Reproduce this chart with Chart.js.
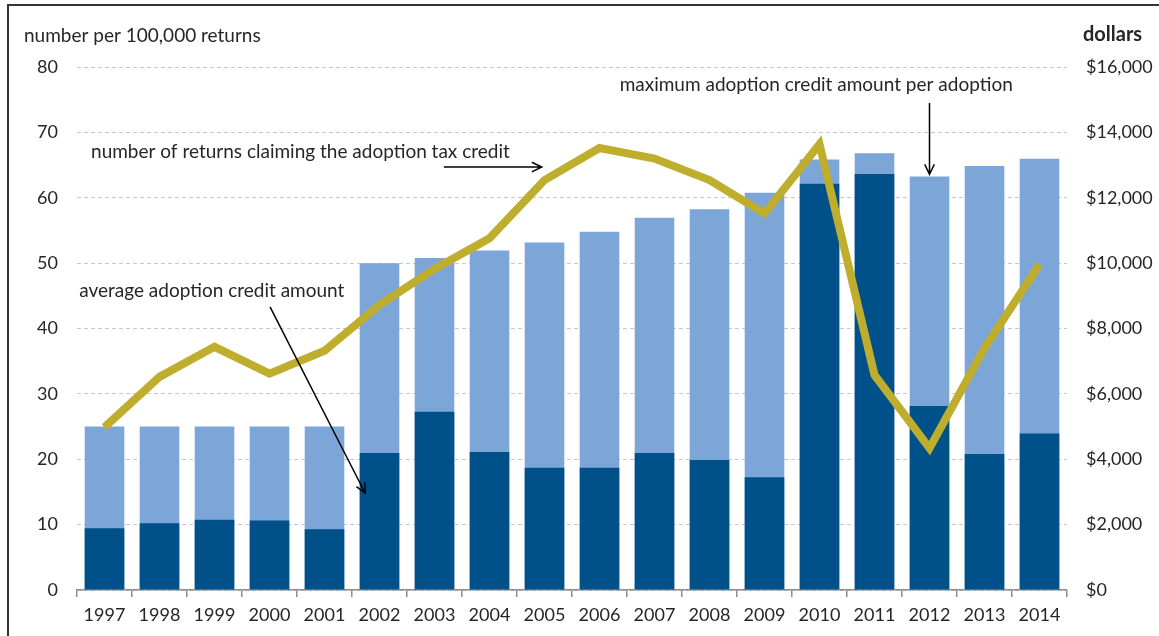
<!DOCTYPE html>
<html>
<head>
<meta charset="utf-8">
<script src="https://cdn.jsdelivr.net/npm/chart.js@4.4.1/dist/chart.umd.min.js"></script>
<style>
  html, body { margin: 0; padding: 0; background: #fff; }
  canvas { display: block; }
</style>
</head>
<body>
<canvas id="adoptionChart" width="1159" height="636"></canvas>
<script>
// DATA
const years = ['1997','1998','1999','2000','2001','2002','2003','2004','2005',
               '2006','2007','2008','2009','2010','2011','2012','2013','2014'];
// maximum credit per adoption (dollars, right axis)
const maxCredit = [5000, 5000, 5000, 5000, 5000, 10000, 10160, 10390, 10630,
                   10960, 11390, 11650, 12150, 13170, 13360, 12650, 12970, 13190];
// average credit amount (dollars, right axis)
const avgCredit = [1890, 2040, 2150, 2130, 1860, 4190, 5450, 4220, 3740,
                   3740, 4190, 3980, 3450, 12430, 12730, 5630, 4160, 4790];
// returns claiming the credit per 100,000 returns (left axis)
const claimRate = [24.9, 32.6, 37.2, 33.1, 36.6, 43.6, 49.1, 53.8, 62.7,
                   67.6, 66.0, 62.7, 57.6, 68.2, 32.9, 21.7, 37.0, 49.8];
const leftTicks = [0, 10, 20, 30, 40, 50, 60, 70, 80];
const rightTicks = [0, 2000, 4000, 6000, 8000, 10000, 12000, 14000, 16000];

const FONT = 'Lato, "Open Sans", sans-serif';
const TEXT = '#262626';

// notes: position in (category index, left-axis value)
const notes = [
  { text: 'number of returns claiming the adoption tax credit', i: -0.245, v: 67.0,
    arrow: { i0: 6.17, v0: 64.7, i1: 7.95, v1: 64.7 } },
  { text: 'maximum adoption credit amount per adoption', i: 12.94, v: 77.25, align: 'center',
    arrow: { i0: 15, v0: 74.5, i1: 15, v1: 63.6 } },
  { text: 'average adoption credit amount', i: -0.46, v: 45.7,
    arrow: { i0: 3.01, v0: 43.3, i1: 4.74, v1: 14.8 } }
];

function drawArrow(ctx, x0, y0, x1, y1) {
  const ang = Math.atan2(y1 - y0, x1 - x0);
  const head = 11;
  ctx.beginPath();
  ctx.moveTo(x0, y0);
  ctx.lineTo(x1, y1);
  ctx.moveTo(x1 - head * Math.cos(ang - 0.45), y1 - head * Math.sin(ang - 0.45));
  ctx.lineTo(x1, y1);
  ctx.lineTo(x1 - head * Math.cos(ang + 0.45), y1 - head * Math.sin(ang + 0.45));
  ctx.stroke();
}

const extras = {
  id: 'extras',
  beforeDraw(chart) {
    const ctx = chart.ctx;
    ctx.save();
    ctx.fillStyle = '#fff';
    ctx.fillRect(0, 0, chart.width, chart.height);
    ctx.restore();
  },
  afterDraw(chart) {
    const ctx = chart.ctx;
    const xs = chart.scales.x, ys = chart.scales.y;
    const px = i => xs.getPixelForValue(0) + i * (xs.getPixelForValue(1) - xs.getPixelForValue(0));
    ctx.save();
    // frame
    ctx.strokeStyle = '#333';
    ctx.lineWidth = 2;
    ctx.beginPath();
    ctx.moveTo(8, chart.height + 5);
    ctx.lineTo(8, 5);
    ctx.lineTo(chart.width + 5, 5);
    ctx.stroke();

    // axis titles
    ctx.fillStyle = TEXT;
    ctx.textBaseline = 'middle';
    ctx.font = '19px ' + FONT;
    ctx.textAlign = 'left';
    ctx.fillText('number per 100,000 returns', 24, 36);
    ctx.font = 'bold 20px ' + FONT;
    ctx.fillText('dollars', 1083, 35);

    // annotations
    ctx.font = '19px ' + FONT;
    ctx.strokeStyle = '#000';
    ctx.lineWidth = 1.5;
    notes.forEach(n => {
      ctx.textAlign = n.align || 'left';
      ctx.fillText(n.text, px(n.i), ys.getPixelForValue(n.v));
      const a = n.arrow;
      drawArrow(ctx, px(a.i0), ys.getPixelForValue(a.v0), px(a.i1), ys.getPixelForValue(a.v1));
    });
    ctx.restore();
  }
};

document.addEventListener('DOMContentLoaded', () => {
  const ctx = document.getElementById('adoptionChart').getContext('2d');
  new Chart(ctx, {
    data: {
      labels: years,
      datasets: [
        {
          type: 'line', label: 'number of returns', data: claimRate, yAxisID: 'y',
          borderColor: '#BFAE2E', borderWidth: 8, pointRadius: 0, tension: 0,
          borderJoinStyle: 'miter', order: 0
        },
        {
          type: 'bar', label: 'average credit', data: avgCredit, yAxisID: 'y2',
          backgroundColor: '#00508A', barPercentage: 0.72, categoryPercentage: 1, order: 1
        },
        {
          type: 'bar', label: 'maximum credit', data: maxCredit, yAxisID: 'y2',
          backgroundColor: '#7DA6D8', barPercentage: 0.72, categoryPercentage: 1, order: 2
        }
      ]
    },
    options: {
      responsive: false,
      animation: false,
      events: [],
      layout: { padding: { top: 67, left: 0, right: 0, bottom: 0 } },
      plugins: { legend: { display: false }, tooltip: { enabled: false } },
      scales: {
        x: {
          stacked: true,
          afterFit: s => { s.height = 46; },
          border: { color: '#8c8c8c', width: 1.5 },
          grid: { offset: true, drawOnChartArea: false, drawTicks: true, tickLength: 7, color: '#8c8c8c', lineWidth: 1.5 },
          ticks: { color: TEXT, font: { family: FONT, size: 18 }, padding: 7, maxRotation: 0, autoSkip: false }
        },
        y: {
          position: 'left', min: 0, max: 80,
          afterFit: s => { s.width = 77; },
          afterBuildTicks: s => { s.ticks = leftTicks.map(v => ({ value: v })); },
          border: { display: false, dash: [4, 3] },
          grid: { color: '#c8c8c8', drawTicks: false, lineWidth: 1 },
          ticks: { color: TEXT, font: { family: FONT, size: 18 }, padding: 19 }
        },
        y2: {
          position: 'right', min: 0, max: 16000, stacked: false,
          afterFit: s => { s.width = 92; },
          afterBuildTicks: s => { s.ticks = rightTicks.map(v => ({ value: v })); },
          border: { display: false },
          grid: { drawOnChartArea: false, drawTicks: false },
          ticks: {
            color: TEXT, font: { family: FONT, size: 18 }, padding: 19,
            callback: v => '$' + v.toLocaleString('en-US')
          }
        }
      }
    },
    plugins: [extras]
  });
});
</script>
</body>
</html>
